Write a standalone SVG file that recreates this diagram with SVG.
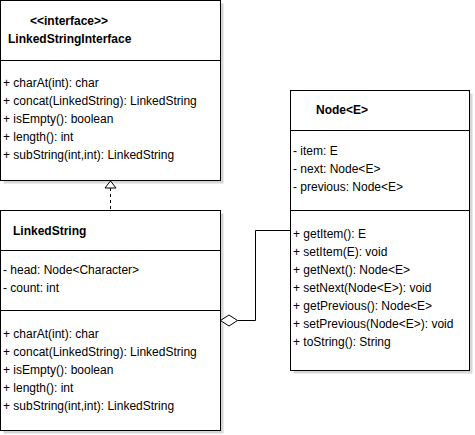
<svg xmlns="http://www.w3.org/2000/svg" width="475" height="435" viewBox="0 0 475 435">
<style>
.box{fill:#fff;stroke:#000;stroke-width:1}
.sh{fill:#d6d6d6;stroke:none}
.div{stroke:#000;stroke-width:1}
text{font-family:"Liberation Sans",Arial,Helvetica,sans-serif;font-size:12px;fill:#000}
.b{font-weight:bold}
.con{fill:none;stroke:#000;stroke-width:1}
</style>
<rect width="475" height="435" fill="#fff"/>
<g id="LinkedStringInterface">
<rect class="sh" x="3.5" y="3.5" width="220" height="180"/>
<rect class="box" x="0.5" y="0.5" width="220" height="180"/>
<line class="div" x1="0.5" y1="60.5" x2="220.5" y2="60.5"/>
<text class="b" x="30" y="25">&lt;&lt;interface&gt;&gt;</text>
<text class="b" x="8" y="43">LinkedStringInterface</text>
<text x="3" y="87">+ charAt(int): char</text>
<text x="3" y="105">+ concat(LinkedString): LinkedString</text>
<text x="3" y="123">+ isEmpty(): boolean</text>
<text x="3" y="141">+ length(): int</text>
<text x="3" y="159">+ subString(int,int): LinkedString</text>
</g>
<g id="LinkedString">
<rect class="sh" x="3.5" y="213.5" width="220" height="220"/>
<rect class="box" x="0.5" y="210.5" width="220" height="220"/>
<line class="div" x1="0.5" y1="250.5" x2="220.5" y2="250.5"/>
<line class="div" x1="0.5" y1="310.5" x2="220.5" y2="310.5"/>
<text class="b" x="13" y="235">LinkedString</text>
<text x="3" y="274">- head: Node&lt;Character&gt;</text>
<text x="3" y="292">- count: int</text>
<text x="3" y="338">+ charAt(int): char</text>
<text x="3" y="356">+ concat(LinkedString): LinkedString</text>
<text x="3" y="374">+ isEmpty(): boolean</text>
<text x="3" y="392">+ length(): int</text>
<text x="3" y="410">+ subString(int,int): LinkedString</text>
</g>
<g id="Node">
<rect class="sh" x="293.5" y="93.5" width="179" height="280"/>
<rect class="box" x="290.5" y="90.5" width="179" height="280"/>
<line class="div" x1="290.5" y1="130.5" x2="469.5" y2="130.5"/>
<line class="div" x1="290.5" y1="210.5" x2="469.5" y2="210.5"/>
<text class="b" x="316" y="114">Node&lt;E&gt;</text>
<text x="293" y="155">- item: E</text>
<text x="293" y="173">- next: Node&lt;E&gt;</text>
<text x="293" y="191">- previous: Node&lt;E&gt;</text>
<text x="293" y="238">+ getItem(): E</text>
<text x="293" y="256">+ setItem(E): void</text>
<text x="293" y="274">+ getNext(): Node&lt;E&gt;</text>
<text x="293" y="292">+ setNext(Node&lt;E&gt;): void</text>
<text x="293" y="310">+ getPrevious(): Node&lt;E&gt;</text>
<text x="293" y="328">+ setPrevious(Node&lt;E&gt;): void</text>
<text x="293" y="346">+ toString(): String</text>
</g>
<g id="connectors">
<line class="con" x1="110.5" y1="188" x2="110.5" y2="210" stroke-dasharray="3,3"/>
<polygon points="110.5,181 105,188 116,188" fill="#fff" stroke="#000" stroke-width="1"/>
<path class="con" d="M237.5 320.5 H255.5 V230.5 H290.5"/>
<polygon points="220.5,320.5 229,315 237.5,320.5 229,326" fill="#fff" stroke="#000" stroke-width="1"/>
</g>
</svg>
